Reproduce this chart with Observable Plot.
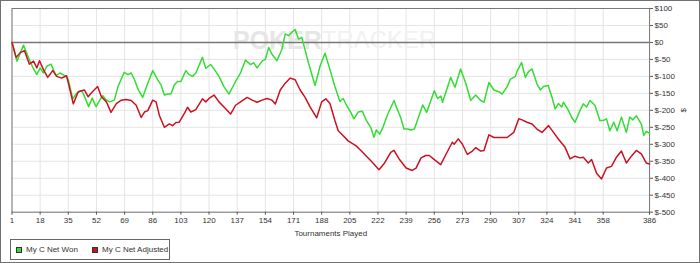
<!DOCTYPE html>
<html>
<head>
<meta charset="utf-8">
<script src="https://cdn.jsdelivr.net/npm/d3@7"></script>
<script src="https://cdn.jsdelivr.net/npm/@observablehq/plot@0.6"></script>
<style>
  html, body { margin: 0; padding: 0; background: #fff; }
  #wrap { position: relative; width: 700px; height: 263px; box-sizing: border-box; border: 1px solid #707070; overflow: hidden; font-family: "Liberation Sans", Arial, sans-serif; }
  #chart { position: absolute; left: -1px; top: -1px; }
  #legend { position: absolute; left: 9px; top: 238px; width: 160px; height: 21px; box-sizing: border-box; border: 1px solid #666; font-size: 8px; color: #333; white-space: nowrap; }
  .item { position: absolute; top: 0; height: 19px; display: flex; align-items: center; white-space: nowrap; }
  .sw { width: 4px; height: 4px; border: 1px solid #333; margin-right: 4px; }
</style>
</head>
<body>
<div id="wrap">
  <div id="chart"></div>
  <div id="legend"></div>
</div>
<script>
const seriesNames = ["My C Net Won", "My C Net Adjusted"];
const seriesColors = ["#33dd33", "#cc1122"];
const xTicks = [1, 18, 35, 52, 69, 86, 103, 120, 137, 154, 171, 188, 205, 222, 239, 256, 273, 290, 307, 324, 341, 358, 386];
const yTicks = [100, 50, 0, -50, -100, -150, -200, -250, -300, -350, -400, -450, -500];

// [tournament, cumulative $]
const netWon = [
  [1,0],[4,-55],[8,-8],[11,-45],[13.5,-73],[16,-95],[18,-75],[20,-90],[22,-70],[24.6,-64],
  [27.6,-98],[30,-90],[33.7,-100],[35,-110],[37.7,-166],[40,-150],[42.7,-142],[44,-150],[47.3,-189],[49.4,-164],
  [51.8,-189],[54,-170],[55.8,-157],[58,-170],[60,-175],[62.8,-170],[65,-130],[68.8,-88],[71,-95],[73,-90],
  [75,-110],[77,-137],[79.9,-162],[83,-120],[86,-83],[89,-110],[91,-125],[93,-155],[95,-152],[97,-152],
  [99,-125],[101,-115],[103,-115],[106,-83],[108,-95],[110,-100],[112,-90],[116,-44],[118,-76],[121,-65],
  [123,-78],[126,-100],[129,-130],[132,-152],[136,-115],[139,-90],[142,-52],[145,-65],[147,-60],[149,-75],
  [152,-55],[154,-50],[156,-15],[158,-35],[161,-54],[164,-20],[166,25],[168,20],[170,30],[172,38],
  [174,10],[176,15],[180,-60],[184,-127],[187,-70],[190,-32],[193,-80],[196,-130],[199,-174],[201,-165],
  [203,-185],[205.6,-206],[207.5,-225],[210,-205],[212.6,-203],[215,-230],[217.6,-250],[219.6,-279],[221,-258],[223,-270],
  [225,-250],[228,-210],[231.7,-171],[233.5,-195],[235.7,-221],[237.7,-255],[240,-255],[242,-258],[244,-255],[249,-184],
  [251.4,-206],[256,-142],[258,-165],[260,-158],[261,-176],[265.9,-103],[268.5,-132],[271.9,-78],[275,-120],[278,-171],
  [281,-155],[284,-171],[286,-176],[289,-118],[292,-140],[295,-145],[297,-152],[300,-130],[302,-108],[305,-100],
  [306,-85],[308.7,-59],[311,-103],[313,-85],[315,-78],[318,-122],[320,-140],[322,-130],[324.8,-127],[327,-160],
  [329,-196],[331,-180],[333,-190],[334,-176],[337,-200],[339,-221],[341,-235],[344,-200],[346,-181],[348,-190],
  [350,-171],[353,-185],[356,-230],[358,-230],[360,-225],[362,-260],[364.4,-235],[366.4,-260],[369,-220],[372,-265],
  [374,-220],[376,-228],[378,-216],[381,-240],[382.5,-274],[384,-262],[386,-268]
];

const netAdjusted = [
  [1,0],[3.5,-44],[6,-30],[8.5,-24],[11.5,-64],[14,-55],[16,-75],[17.6,-54],[20,-80],[22.6,-103],
  [25.6,-83],[28,-100],[31,-105],[34,-98],[38,-181],[41,-145],[44.7,-140],[47,-160],[49,-148],[52.7,-130],
  [55,-160],[58,-175],[60.8,-206],[64,-180],[67,-170],[70,-168],[73,-171],[76,-185],[79,-221],[81,-205],
  [83,-201],[86,-170],[88,-175],[90,-215],[93,-250],[96,-240],[98,-245],[100,-236],[102,-235],[105,-210],
  [107,-191],[109,-205],[112,-198],[116,-166],[118,-175],[120,-165],[123,-155],[126,-175],[129,-190],[133,-211],
  [136,-185],[139,-175],[143,-162],[146,-170],[149,-176],[152,-170],[155,-165],[158,-170],[160,-181],[163,-140],
  [166,-120],[169,-105],[172,-110],[175,-140],[178,-162],[181,-190],[185,-222],[188,-175],[190.5,-166],[193,-180],
  [196,-230],[198,-260],[201,-275],[204,-290],[208.6,-304],[212,-320],[215,-335],[218,-350],[222.6,-375],[226,-355],
  [229.7,-324],[231.7,-318],[235,-345],[239,-370],[242.7,-377],[245,-370],[248,-340],[250.8,-333],[253,-333],[256,-345],
  [259.9,-360],[263,-330],[266.9,-294],[268,-300],[270.5,-284],[273,-300],[276,-330],[279,-320],[281,-310],[284,-320],
  [286,-318],[289,-272],[292,-280],[296,-280],[300,-280],[304,-265],[307,-225],[309,-228],[312,-235],[315,-240],
  [318,-255],[321,-265],[325,-245],[328,-265],[331,-285],[335,-309],[338,-343],[341,-335],[344,-340],[346,-338],
  [349,-355],[351,-345],[354,-385],[357,-402],[360,-370],[363,-365],[366,-338],[369,-320],[372,-355],[375,-335],
  [378,-318],[381,-328],[384,-355],[386,-358]
];

const font = "Liberation Sans, Arial, sans-serif";
const chart = Plot.plot({
  width: 700,
  height: 238,
  marginLeft: 11.5,
  marginRight: 50,
  marginTop: 8,
  marginBottom: 26,
  style: { fontFamily: font, fontSize: "8px", color: "#333", background: "transparent", overflow: "visible" },
  x: { domain: [1, 386] },
  y: { domain: [-500, 100] },
  marks: [
    Plot.gridX(xTicks, { stroke: "#e4e4e4", strokeOpacity: 1 }),
    Plot.gridY(yTicks, { stroke: "#e4e4e4", strokeOpacity: 1 }),
    Plot.text(["POKER"], { frameAnchor: "top", dx: -9, dy: 23, textAnchor: "end", fontSize: 25, fontWeight: "bold", fill: "#e6e6e6" }),
    Plot.text(["TRACKER"], { frameAnchor: "top", dx: -9, dy: 23, textAnchor: "start", fontSize: 24, fill: "#f1f1f1" }),
    Plot.ruleY([0], { stroke: "#777", strokeWidth: 1.5 }),
    Plot.frame({ stroke: "#777" }),
    Plot.line(netWon, { x: d => d[0], y: d => d[1], stroke: seriesColors[0], strokeWidth: 1.5 }),
    Plot.line(netAdjusted, { x: d => d[0], y: d => d[1], stroke: seriesColors[1], strokeWidth: 1.5 }),
    Plot.axisX(xTicks, { tickSize: 3, tickPadding: 2, stroke: "#555", label: "Tournaments Played", labelAnchor: "center", labelArrow: "none", labelOffset: 24 }),
    Plot.axisY(yTicks, { anchor: "right", tickSize: 3, tickPadding: 2, stroke: "#555", tickFormat: d => `$${d}`, label: "$", labelAnchor: "center", labelArrow: "none", labelOffset: 36 })
  ]
});
document.getElementById("chart").appendChild(chart);

const legend = document.getElementById("legend");
const itemLeft = [5, 81];
seriesNames.forEach((name, i) => {
  const item = document.createElement("div");
  item.className = "item";
  item.style.left = itemLeft[i] + "px";
  const sw = document.createElement("span");
  sw.className = "sw";
  sw.style.background = seriesColors[i];
  item.appendChild(sw);
  item.appendChild(document.createTextNode(name));
  legend.appendChild(item);
});
</script>
</body>
</html>
